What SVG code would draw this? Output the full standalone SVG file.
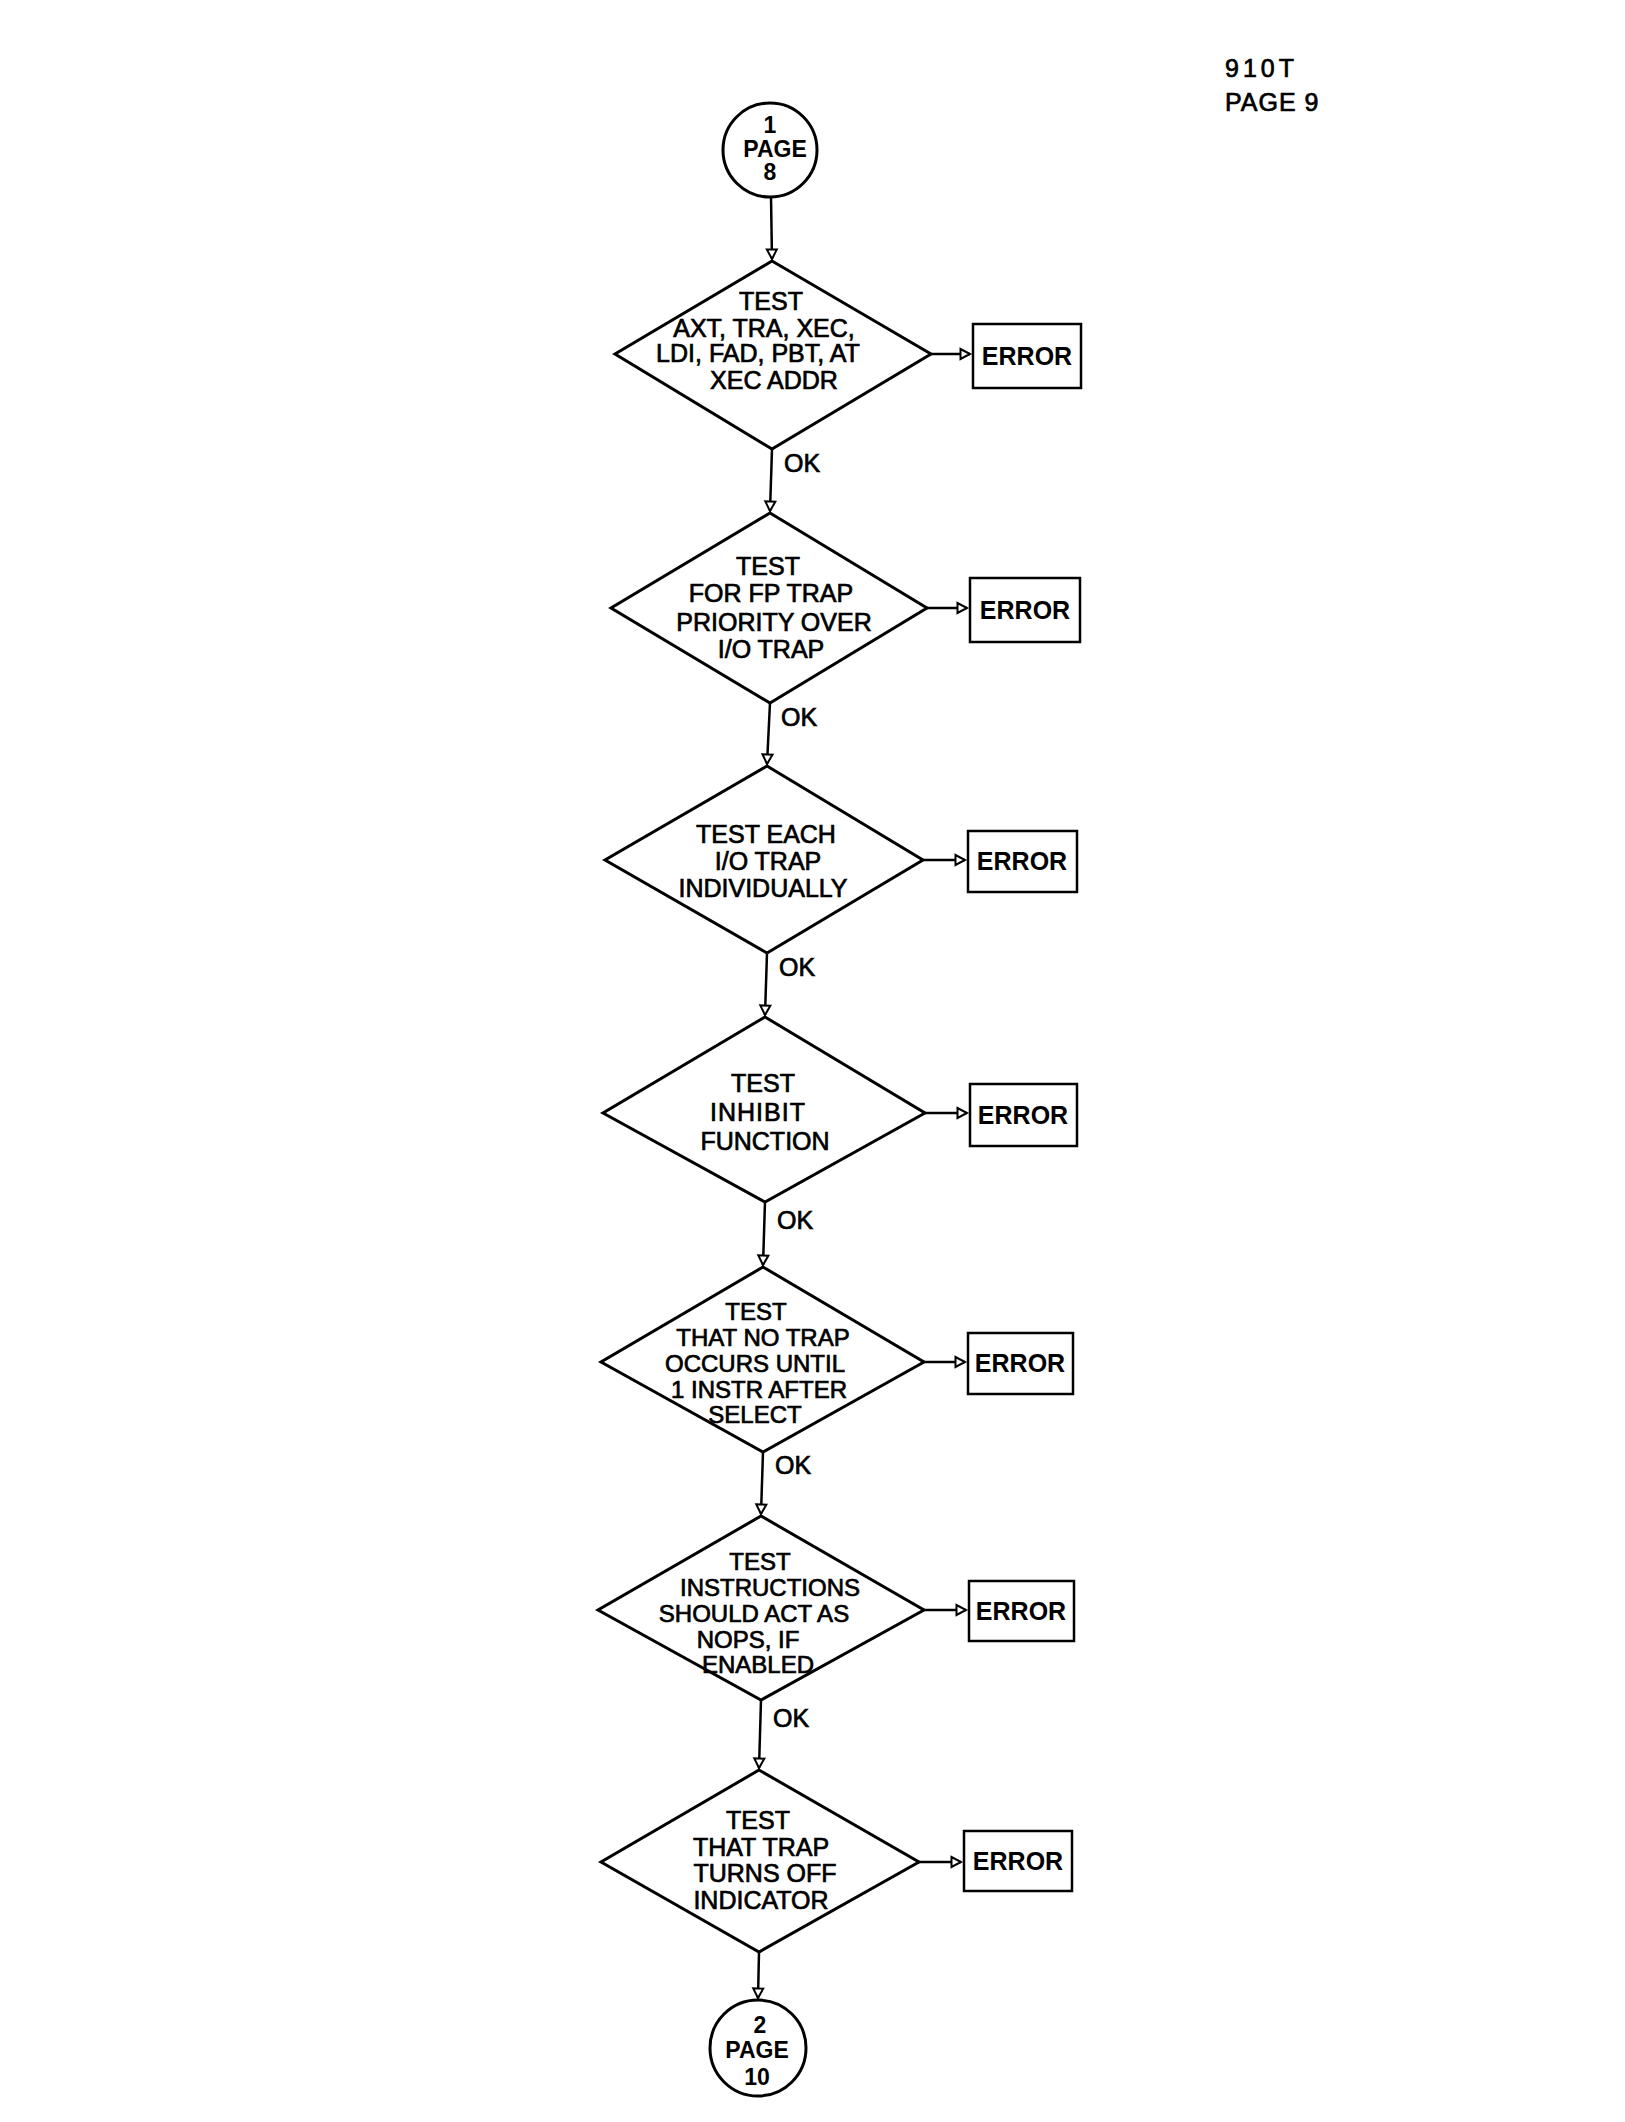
<svg xmlns="http://www.w3.org/2000/svg" width="1625" height="2122" viewBox="0 0 1625 2122">
<style>
.bg{fill:#fff}
.shape{fill:#fff;stroke:#000;stroke-width:3;stroke-linejoin:miter}
.box{fill:#fff;stroke:#000;stroke-width:2.5}
.conn{fill:none;stroke:#000;stroke-width:2.5}
text{font-family:"Liberation Sans",Arial,sans-serif;fill:#000}
.t{font-size:25px;text-anchor:middle;stroke:#000;stroke-width:0.7}
.t5{font-size:24px;text-anchor:middle;stroke:#000;stroke-width:0.7}
.err{font-size:25px;text-anchor:middle;font-weight:bold}
.ok{font-size:25px;stroke:#000;stroke-width:0.7}
.ct{font-size:23px;text-anchor:middle;font-weight:bold}
.hdr{font-size:25px;stroke:#000;stroke-width:0.7}
</style>
<defs>
<marker id="ah" markerUnits="userSpaceOnUse" markerWidth="14" markerHeight="14" refX="11" refY="6.5" orient="auto" viewBox="0 0 14 13">
<path d="M1.5,1.5 L11,6.5 L1.5,11.5 z" fill="#fff" stroke="#000" stroke-width="2"/>
</marker>
</defs>
<rect class="bg" x="0" y="0" width="1625" height="2122"/>

<g id="header">
<text class="hdr" x="1225" y="77" letter-spacing="4">910T</text>
<text class="hdr" x="1225" y="111" letter-spacing="1">PAGE 9</text>
</g>

<g id="connectors">
<line class="conn" x1="771" y1="197" x2="772" y2="259" marker-end="url(#ah)"/>
<line class="conn" x1="931" y1="354" x2="970" y2="354" marker-end="url(#ah)"/>
<line class="conn" x1="772" y1="449" x2="770" y2="511" marker-end="url(#ah)"/>
<line class="conn" x1="927" y1="608" x2="967" y2="608" marker-end="url(#ah)"/>
<line class="conn" x1="770" y1="703" x2="767" y2="764" marker-end="url(#ah)"/>
<line class="conn" x1="923" y1="860" x2="965" y2="860" marker-end="url(#ah)"/>
<line class="conn" x1="767" y1="953" x2="765" y2="1015" marker-end="url(#ah)"/>
<line class="conn" x1="925" y1="1113" x2="967" y2="1113" marker-end="url(#ah)"/>
<line class="conn" x1="765" y1="1202" x2="763" y2="1265" marker-end="url(#ah)"/>
<line class="conn" x1="924" y1="1362" x2="965" y2="1362" marker-end="url(#ah)"/>
<line class="conn" x1="763" y1="1452" x2="761" y2="1514" marker-end="url(#ah)"/>
<line class="conn" x1="924" y1="1610" x2="966" y2="1610" marker-end="url(#ah)"/>
<line class="conn" x1="761" y1="1700" x2="759" y2="1768" marker-end="url(#ah)"/>
<line class="conn" x1="919" y1="1862" x2="961" y2="1862" marker-end="url(#ah)"/>
<line class="conn" x1="759" y1="1952" x2="758" y2="1998" marker-end="url(#ah)"/>
<text class="ok" x="784" y="472">OK</text>
<text class="ok" x="781" y="726">OK</text>
<text class="ok" x="779" y="976">OK</text>
<text class="ok" x="777" y="1229">OK</text>
<text class="ok" x="775" y="1474">OK</text>
<text class="ok" x="773" y="1727">OK</text>
</g>

<g id="start">
<circle class="shape" cx="770" cy="150" r="47"/>
<text class="ct" x="770" y="133">1</text>
<text class="ct" x="775" y="157">PAGE</text>
<text class="ct" x="770" y="180">8</text>
</g>

<g id="d1">
<polygon class="shape" points="772,261 931,354 772,449 615,354"/>
<text class="t" x="771" y="310">TEST</text>
<text class="t" x="764" y="337">AXT, TRA, XEC,</text>
<text class="t" x="758" y="362">LDI, FAD, PBT, AT</text>
<text class="t" x="774" y="389">XEC ADDR</text>
</g>
<g id="e1">
<rect class="box" x="973" y="324" width="108" height="64"/>
<text class="err" x="1027" y="365">ERROR</text>
</g>

<g id="d2">
<polygon class="shape" points="770,513 927,608 770,703 611,608"/>
<text class="t" x="768" y="575">TEST</text>
<text class="t" x="771" y="602">FOR FP TRAP</text>
<text class="t" x="774" y="631">PRIORITY OVER</text>
<text class="t" x="771" y="658">I/O TRAP</text>
</g>
<g id="e2">
<rect class="box" x="970" y="578" width="110" height="64"/>
<text class="err" x="1025" y="619">ERROR</text>
</g>

<g id="d3">
<polygon class="shape" points="767,766 923,860 767,953 605,860"/>
<text class="t" x="766" y="843">TEST EACH</text>
<text class="t" x="768" y="870">I/O TRAP</text>
<text class="t" x="763" y="897">INDIVIDUALLY</text>
</g>
<g id="e3">
<rect class="box" x="968" y="831" width="109" height="61"/>
<text class="err" x="1022" y="870">ERROR</text>
</g>

<g id="d4">
<polygon class="shape" points="765,1017 925,1113 765,1202 603,1113"/>
<text class="t" x="763" y="1092">TEST</text>
<text class="t" x="758" y="1121" letter-spacing="1">INHIBIT</text>
<text class="t" x="765" y="1150">FUNCTION</text>
</g>
<g id="e4">
<rect class="box" x="970" y="1084" width="107" height="62"/>
<text class="err" x="1023" y="1124">ERROR</text>
</g>

<g id="d5">
<polygon class="shape" points="763,1267 924,1362 763,1452 601,1362"/>
<text class="t5" x="756" y="1320">TEST</text>
<text class="t5" x="763" y="1346">THAT NO TRAP</text>
<text class="t5" x="755" y="1372">OCCURS UNTIL</text>
<text class="t5" x="759" y="1398">1 INSTR AFTER</text>
<text class="t5" x="755" y="1423">SELECT</text>
</g>
<g id="e5">
<rect class="box" x="968" y="1333" width="105" height="61"/>
<text class="err" x="1020" y="1372">ERROR</text>
</g>

<g id="d6">
<polygon class="shape" points="761,1516 924,1610 761,1700 598,1610"/>
<text class="t5" x="760" y="1570">TEST</text>
<text class="t5" x="770" y="1596">INSTRUCTIONS</text>
<text class="t5" x="754" y="1622">SHOULD ACT AS</text>
<text class="t5" x="748" y="1648">NOPS,  IF</text>
<text class="t5" x="758" y="1673">ENABLED</text>
</g>
<g id="e6">
<rect class="box" x="969" y="1581" width="105" height="60"/>
<text class="err" x="1021" y="1620">ERROR</text>
</g>

<g id="d7">
<polygon class="shape" points="759,1770 919,1862 759,1952 601,1862"/>
<text class="t" x="758" y="1829">TEST</text>
<text class="t" x="761" y="1856">THAT TRAP</text>
<text class="t" x="765" y="1882">TURNS OFF</text>
<text class="t" x="761" y="1909">INDICATOR</text>
</g>
<g id="e7">
<rect class="box" x="964" y="1831" width="108" height="60"/>
<text class="err" x="1018" y="1870">ERROR</text>
</g>

<g id="end">
<circle class="shape" cx="758" cy="2048" r="48"/>
<text class="ct" x="760" y="2033">2</text>
<text class="ct" x="757" y="2058">PAGE</text>
<text class="ct" x="757" y="2085">10</text>
</g>
</svg>
